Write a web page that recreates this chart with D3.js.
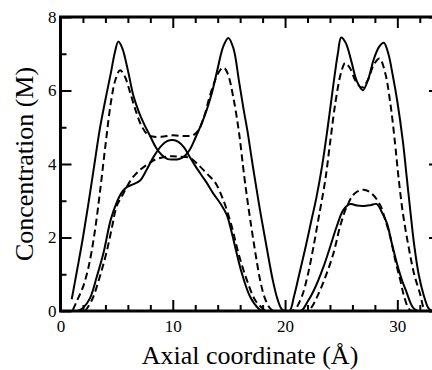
<!DOCTYPE html>
<html><head><meta charset="utf-8">
<script src="https://cdn.jsdelivr.net/npm/d3@7"></script>
<style>
html,body{margin:0;padding:0;background:#fff;}
svg{display:block;}
</style></head>
<body><svg id="c" width="432" height="370"></svg>
<script>
// Concentration profiles along the axial coordinate [x (Å), concentration (M)]
const solidOuter = [[1.0,0.32],[1.5,1.15],[2.0,2.0],[2.5,2.95],[3.0,3.95],[3.5,4.95],[4.0,5.75],[4.5,6.5],[4.85,7.05],[5.15,7.33],[5.5,7.15],[6.0,6.55],[6.5,5.85],[7.0,5.4],[7.5,5.05],[8.0,4.75],[8.5,4.45],[9.0,4.25],[9.5,4.14],[10.0,4.12],[10.5,4.13],[11.0,4.2],[11.5,4.38],[12.0,4.7],[12.5,5.05],[13.0,5.45],[13.5,5.95],[14.0,6.6],[14.5,7.2],[14.95,7.43],[15.4,7.15],[15.9,6.25],[16.3,5.5],[16.65,4.9],[17.0,4.2],[17.33,3.56],[17.85,2.6],[18.38,1.7],[18.9,0.85],[19.3,0.35],[19.7,0.05],[20.0,0],[20.4,0],[20.8,0.4],[21.3,1.05],[21.8,1.7],[22.3,2.4],[22.8,3.1],[23.3,3.95],[23.8,5.0],[24.3,6.15],[24.7,7.0],[25.0,7.44],[25.4,7.3],[25.9,6.8],[26.4,6.25],[26.93,6.01],[27.4,6.3],[27.9,6.85],[28.4,7.2],[28.8,7.3],[29.2,7.0],[29.6,6.4],[30.0,5.7],[30.5,4.6],[30.85,3.6],[31.2,2.6],[31.5,1.8],[31.9,1.0],[32.33,0.45],[32.78,0.07],[33.1,0]];
const dashedOuter = [[1.1,0.03],[1.5,0.3],[2.0,0.65],[2.5,1.2],[3.0,2.05],[3.5,3.2],[4.0,4.5],[4.5,5.7],[4.9,6.3],[5.3,6.55],[5.7,6.4],[6.2,5.95],[6.7,5.45],[7.2,5.05],[7.7,4.82],[8.2,4.75],[9.0,4.74],[10.0,4.78],[11.0,4.76],[11.8,4.78],[12.3,4.92],[12.8,5.3],[13.3,5.85],[13.8,6.3],[14.2,6.55],[14.55,6.62],[14.9,6.45],[15.4,5.8],[15.9,4.85],[16.35,3.7],[16.7,2.9],[17.04,2.2],[17.4,1.5],[17.78,0.84],[18.2,0.35],[18.67,0.07],[19.0,0],[20.5,0],[20.9,0.05],[21.5,0.4],[22.0,0.95],[22.5,1.7],[23.0,2.55],[23.58,3.56],[24.02,4.6],[24.5,5.7],[25.0,6.5],[25.36,6.75],[25.8,6.6],[26.3,6.25],[26.85,6.08],[27.4,6.3],[27.9,6.7],[28.42,6.87],[28.9,6.5],[29.4,5.6],[29.8,4.55],[30.1,3.65],[30.5,2.65],[31.0,1.75],[31.5,1.0],[32.04,0.45],[32.33,0.1],[32.6,0]];
const solidInner = [[1.5,0],[2.0,0.08],[2.63,0.35],[3.23,0.93],[3.82,1.57],[4.47,2.48],[5.0,2.95],[5.45,3.22],[5.9,3.37],[6.5,3.45],[7.09,3.55],[7.6,3.8],[8.3,4.2],[9.0,4.5],[9.5,4.62],[10.0,4.65],[10.5,4.6],[11.0,4.45],[11.5,4.2],[12.0,3.95],[12.5,3.72],[13.0,3.5],[13.6,3.2],[14.3,2.9],[14.8,2.62],[15.2,2.2],[15.55,1.75],[16.15,1.03],[16.89,0.39],[17.63,0.07],[18.0,0],[21.4,0],[22.0,0.25],[22.58,0.57],[23.42,1.2],[24.02,1.75],[24.6,2.3],[25.2,2.75],[25.8,2.91],[26.4,2.87],[27.0,2.86],[27.6,2.88],[28.18,2.91],[28.6,2.7],[29.07,2.39],[29.5,1.85],[29.96,1.3],[30.4,0.85],[30.86,0.48],[31.2,0.2],[31.45,0.07],[31.8,0]];
const dashedInner = [[2.2,0],[2.8,0.3],[3.5,0.93],[4.1,1.6],[4.6,2.3],[5.0,2.85],[5.6,3.2],[6.35,3.6],[7.09,3.84],[7.8,4.0],[8.5,4.13],[9.5,4.2],[10.0,4.21],[10.5,4.2],[11.5,4.17],[12.2,4.0],[13.0,3.75],[13.77,3.5],[14.5,3.02],[15.26,2.29],[15.85,1.57],[16.6,0.84],[17.33,0.3],[18.07,0.05],[18.3,0],[22.0,0],[22.4,0.12],[22.8,0.35],[23.5,0.85],[24.31,1.57],[24.9,2.3],[25.5,2.84],[26.2,3.2],[27.0,3.3],[27.7,3.2],[28.48,2.88],[28.9,2.5],[29.37,2.02],[29.8,1.4],[30.26,0.84],[30.6,0.4],[31.0,0.07],[31.3,0]];
const xMajorTicks = [0,10,20,30];
const yMajorTicks = [0,2,4,6,8];
const xTitle = "Axial coordinate (Å)";
const yTitle = "Concentration (M)";

const FONT = "Liberation Serif";
const svg = d3.select("#c");
const L = 60.5, R = 440, T = 17, B = 311;
const x = d3.scaleLinear().domain([0, 33.8]).range([L, R]);
const y = d3.scaleLinear().domain([0, 8]).range([B, T]);

svg.append("defs").append("clipPath").attr("id","clip")
  .append("rect").attr("x",L).attr("y",T).attr("width",R-L).attr("height",B-T);

const line = d3.line().x(d=>x(d[0])).y(d=>y(d[1])).curve(d3.curveCatmullRom.alpha(0.5));
const g = svg.append("g").attr("clip-path","url(#clip)");
const series = [
  {d: solidOuter, dash: null},
  {d: dashedOuter, dash: "7,4"},
  {d: solidInner, dash: null},
  {d: dashedInner, dash: "7,4"}
];
series.forEach(s => {
  g.append("path").attr("d", line(s.d)).attr("fill","none")
   .attr("stroke","#000").attr("stroke-width",2)
   .attr("stroke-dasharray", s.dash);
});

const xMinor = d3.range(0, 34, 2).filter(v => v % 10 !== 0);
const yMinor = [1,3,5,7];

function styleAxis(sel){
  sel.attr("font-family", FONT).attr("font-size", 17);
  sel.select(".domain").remove();
  sel.selectAll(".tick line").attr("stroke","#000").attr("stroke-width",2);
  sel.selectAll("text").style("font-family", FONT).style("font-size","17px").attr("fill","#000");
}
// bottom
svg.append("g").attr("transform",`translate(0,${B})`)
  .call(d3.axisBottom(x).tickValues(xMajorTicks).tickSize(-11).tickPadding(9).tickFormat(d3.format("d"))).call(styleAxis);
svg.append("g").attr("transform",`translate(0,${B})`)
  .call(d3.axisBottom(x).tickValues(xMinor).tickSize(-6).tickFormat("")).call(styleAxis);
// top
svg.append("g").attr("transform",`translate(0,${T})`)
  .call(d3.axisTop(x).tickValues(xMajorTicks).tickSize(-11).tickFormat("")).call(styleAxis);
svg.append("g").attr("transform",`translate(0,${T})`)
  .call(d3.axisTop(x).tickValues(xMinor).tickSize(-6).tickFormat("")).call(styleAxis);
// left
svg.append("g").attr("transform",`translate(${L},0)`)
  .call(d3.axisLeft(y).tickValues(yMajorTicks).tickSize(-11).tickPadding(4).tickFormat(d3.format("d"))).call(styleAxis);
svg.append("g").attr("transform",`translate(${L},0)`)
  .call(d3.axisLeft(y).tickValues(yMinor).tickSize(-6).tickFormat("")).call(styleAxis);
// right
svg.append("g").attr("transform",`translate(${R},0)`)
  .call(d3.axisRight(y).tickValues(yMajorTicks).tickSize(-11).tickFormat("")).call(styleAxis);
svg.append("g").attr("transform",`translate(${R},0)`)
  .call(d3.axisRight(y).tickValues(yMinor).tickSize(-6).tickFormat("")).call(styleAxis);

// frame
svg.append("rect").attr("x",L).attr("y",T).attr("width",R-L).attr("height",B-T)
  .attr("fill","none").attr("stroke","#000").attr("stroke-width",3);

svg.append("text").attr("x",(141+359)/2).attr("y",364).attr("text-anchor","middle")
  .style("font-family", FONT).style("font-size","26px").text(xTitle);
svg.append("text").attr("transform","translate(33,164) rotate(-90)").attr("text-anchor","middle")
  .style("font-family", FONT).style("font-size","26px").text(yTitle);
</script></body></html>
